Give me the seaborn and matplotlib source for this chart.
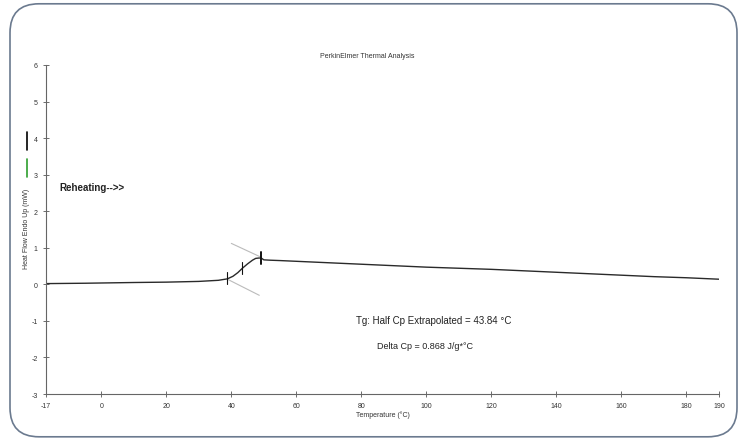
import matplotlib
matplotlib.use("Agg")
import matplotlib.pyplot as plt
from matplotlib.patches import FancyBboxPatch
from matplotlib.lines import Line2D
import seaborn as sns
import pandas as pd

sns.set_style("white")
plt.rcParams['font.family'] = ['Liberation Sans', 'DejaVu Sans']

# Data
temperature = [-17, -5, 10, 20, 30, 36, 38.8, 40.5, 42, 43.4, 45, 46.5, 47.5, 48.5, 49.2,
               50, 52, 55, 60, 70, 80, 90, 100, 110, 120, 130, 140, 150, 160, 170, 180, 190]
heat_flow = [0.02, 0.03, 0.05, 0.06, 0.08, 0.11, 0.15, 0.22, 0.32, 0.44, 0.56, 0.66, 0.71, 0.72, 0.72,
             0.67, 0.66, 0.65, 0.63, 0.59, 0.55, 0.51, 0.47, 0.44, 0.41, 0.37, 0.33, 0.29, 0.25, 0.21, 0.18, 0.14]

# Onset / midpoint / end markers (temperature, low, high)
marker_temp = [38.8, 43.4, 49.2]
marker_low = [0.0, 0.27, 0.55]
marker_high = [0.33, 0.60, 0.88]
marker_width = [0.8, 0.8, 1.4]

# Tangent lines
upper_tangent_x = [40.0, 49.2]
upper_tangent_y = [1.12, 0.74]
lower_tangent_x = [38.8, 48.6]
lower_tangent_y = [0.14, -0.30]

x_ticks = [-17, 0, 20, 40, 60, 80, 100, 120, 140, 160, 180, 190]
y_ticks = [-3, -2, -1, 0, 1, 2, 3, 4, 5, 6]

title = "PerkinElmer Thermal Analysis"
x_label = "Temperature (°C)"
y_label = "Heat Flow Endo Up (mW)"
tg_text = "Tg: Half Cp Extrapolated = 43.84 °C"
dcp_text = "Delta Cp = 0.868 J/g*°C"
reheat_text = "Reheating-->>"

df = pd.DataFrame({"Temperature": temperature, "HeatFlow": heat_flow})

fig = plt.figure(figsize=(7.46, 4.39), dpi=100)
ax = fig.add_axes([46/746, 1 - 395/439, (719 - 46)/746, (395 - 66)/439])

sns.lineplot(data=df, x="Temperature", y="HeatFlow", ax=ax, color="#2a2a2a", linewidth=1.0)

ax.plot(upper_tangent_x, upper_tangent_y, color="#bbbbbb", linewidth=0.8)
ax.plot(lower_tangent_x, lower_tangent_y, color="#bbbbbb", linewidth=0.8)
for t, lo, hi, w in zip(marker_temp, marker_low, marker_high, marker_width):
    ax.plot([t, t], [lo, hi], color="#111111", linewidth=w)

ax.set_xlim(-17, 190)
ax.set_ylim(-3, 6)
ax.set_xticks(x_ticks)
ax.set_yticks(y_ticks)
ax.set_xticklabels([str(v) for v in x_ticks], fontsize=5, color="#333333")
ax.set_yticklabels([str(v) for v in y_ticks], fontsize=5, color="#333333")
ax.tick_params(axis="both", direction="inout", length=4, width=0.6, colors="#555555", pad=4, labelcolor="#333333")
ax.tick_params(axis="both", bottom=True, left=True)
for s in ["top", "right"]:
    ax.spines[s].set_visible(False)
for s in ["left", "bottom"]:
    ax.spines[s].set_color("#666666")
    ax.spines[s].set_linewidth(0.8)

ax.set_xlabel(x_label, fontsize=5, color="#333333", labelpad=1)
ax.set_ylabel("")
fig.text(27/746, 1 - 229/439, y_label, rotation=90, fontsize=5, color="#333333", ha="center", va="center")

fig.text(367/746, 1 - 57/439, title, fontsize=5, color="#333333", ha="center", va="center")
ax.text(-13, 2.66, reheat_text, fontsize=7, fontweight="bold", color="#222222", ha="left", va="center")
fig.text(434/746, 1 - 321/439, tg_text, fontsize=7, color="#222222", ha="center", va="center")
fig.text(425/746, 1 - 347/439, dcp_text, fontsize=6.5, color="#222222", ha="center", va="center")

# Legend-like vertical colour bars
fig.add_artist(Line2D([27/746, 27/746], [1 - 133/439, 1 - 151/439], color="black", linewidth=1.2))
fig.add_artist(Line2D([27/746, 27/746], [1 - 160/439, 1 - 178/439], color="#2e9e2e", linewidth=1.2))

# Rounded frame (in inches)
frame = FancyBboxPatch((0.10, 0.012), 7.27, 4.33,
                       boxstyle="round,pad=0,rounding_size=0.29",
                       transform=fig.dpi_scale_trans, fill=False, edgecolor="#6b7a8f", linewidth=1.2)
fig.add_artist(frame)

fig.savefig("out.png", dpi=100)
